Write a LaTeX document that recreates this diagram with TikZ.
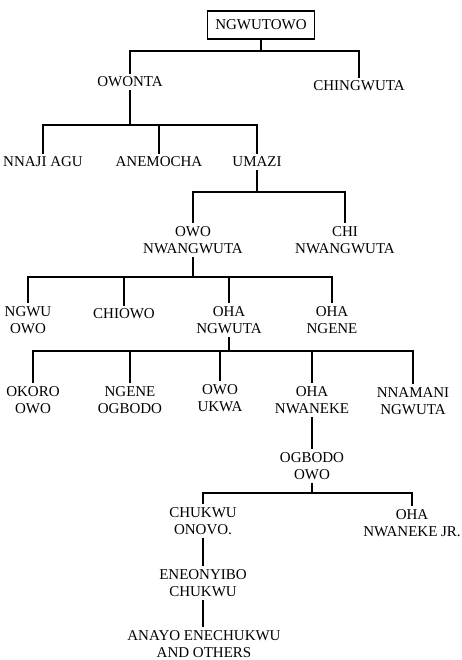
\documentclass[tikz,border=0pt]{standalone}
\usepackage{fontspec}
\setmainfont{Liberation Serif}
\begin{document}
\begin{tikzpicture}[x=1pt,y=-1pt,
    every node/.style={align=center,inner sep=3pt,font=\fontsize{15}{17}\selectfont},
    root/.style={draw,line width=1.4pt,inner xsep=8pt,inner ysep=9pt}]
      \useasboundingbox (0,0) rectangle (462,660);
      \path
        (261,25) node[root] (ngwutowo){NGWUTOWO}
        (130,82) node (owonta){OWONTA}
        (359,86) node (chingwuta){CHINGWUTA}
        (43,162) node (nnaji){NNAJI AGU}
        (159,162) node (anemocha){ANEMOCHA}
        (257,162) node (umazi){UMAZI}
        (193,240) node (owonw){OWO\\NWANGWUTA}
        (345,240) node (chinw){CHI\\NWANGWUTA}
        (28,320) node (ngwuowo){NGWU\\OWO}
        (124,314) node (chiowo){CHIOWO}
        (229,320) node (ohangwuta){OHA\\NGWUTA}
        (332,320) node (ohangene){OHA\\NGENE}
        (33,400) node (okoro){OKORO\\OWO}
        (130,400) node (ngeneog){NGENE\\OGBODO}
        (220,398) node (owoukwa){OWO\\UKWA}
        (312,400) node (ohanwa){OHA\\NWANEKE}
        (413,401) node (nnamani){NNAMANI\\NGWUTA}
        (312,466) node (ogbodo){OGBODO\\OWO}
        (203,521) node (chukwu){CHUKWU\\ONOVO.}
        (412,523) node (ohajr){OHA\\NWANEKE JR.}
        (203,583) node (eneonyibo){ENEONYIBO\\CHUKWU}
        (204,644) node (anayo){ANAYO ENECHUKWU\\AND OTHERS};
      % bar levels
      \coordinate (b1) at (0,51);
      \coordinate (b2) at (0,125);
      \coordinate (b3) at (0,192);
      \coordinate (b4) at (0,277);
      \coordinate (b5) at (0,351);
      \coordinate (b6) at (0,493);
      \begin{scope}[line width=1.1pt]
        \draw (ngwutowo.south) -- (ngwutowo.south |- b1);
        \draw (owonta.north) |- (b1 -| chingwuta.north) -- (chingwuta.north);
        \draw (owonta.south) -- (owonta.south |- b2);
        \draw (nnaji.north) |- (b2 -| umazi.north) -- (umazi.north);
        \draw (anemocha.north) -- (anemocha.north |- b2);
        \draw (umazi.south) -- (umazi.south |- b3);
        \draw (owonw.north) |- (b3 -| chinw.north) -- (chinw.north);
        \draw (owonw.south) -- (owonw.south |- b4);
        \draw (ngwuowo.north) |- (b4 -| ohangene.north) -- (ohangene.north);
        \draw (chiowo.north) -- (chiowo.north |- b4);
        \draw (ohangwuta.north) -- (ohangwuta.north |- b4);
        \draw (ohangwuta.south) -- (ohangwuta.south |- b5);
        \draw (okoro.north) |- (b5 -| nnamani.north) -- (nnamani.north);
        \draw (ngeneog.north) -- (ngeneog.north |- b5);
        \draw (owoukwa.north) -- (owoukwa.north |- b5);
        \draw (ohanwa.north) -- (ohanwa.north |- b5);
        \draw (ohanwa.south) -- (ogbodo.north);
        \draw (ogbodo.south) -- (ogbodo.south |- b6);
        \draw (chukwu.north) |- (b6 -| ohajr.north) -- (ohajr.north);
        \draw (chukwu.south) -- (eneonyibo.north);
        \draw (eneonyibo.south) -- (eneonyibo.south |- anayo.north);
      \end{scope}
    \end{tikzpicture}
\end{document}
